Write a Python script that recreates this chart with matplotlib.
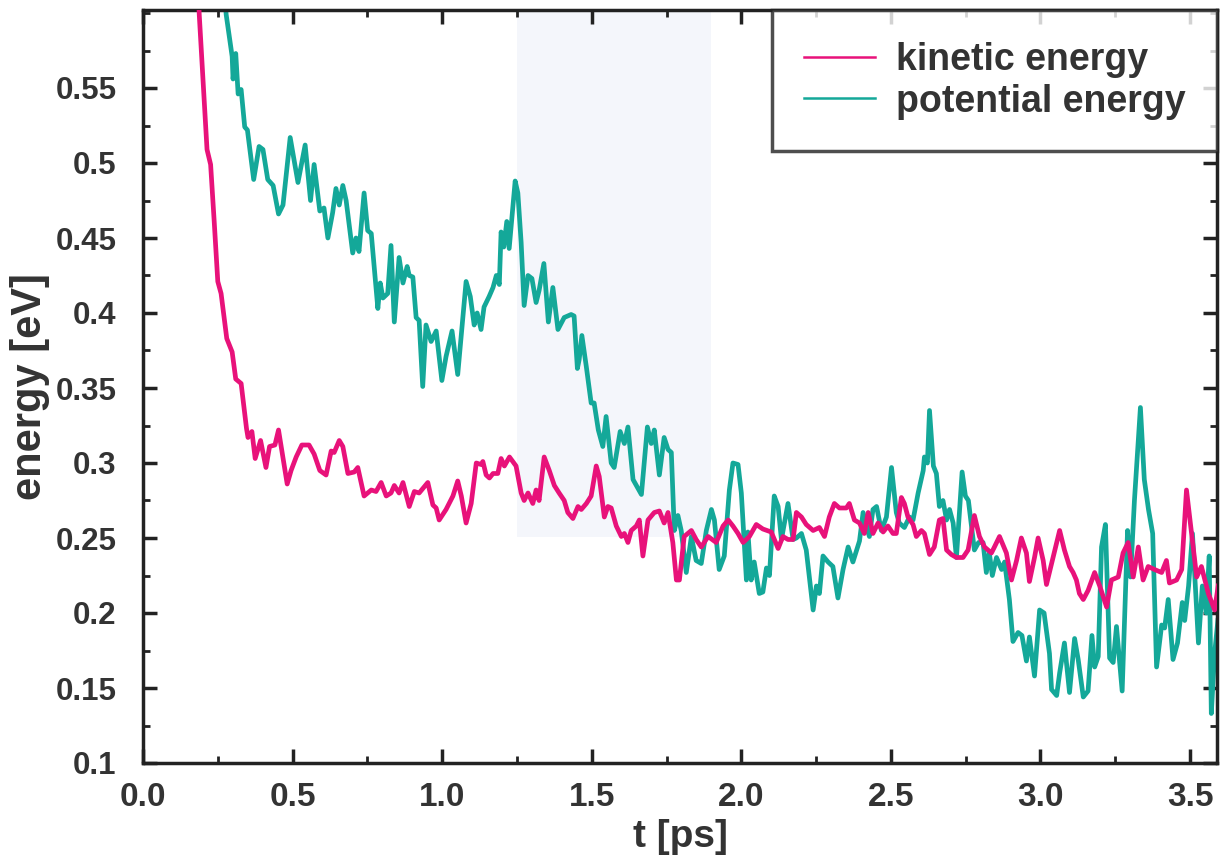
import numpy as np
import matplotlib
matplotlib.use("Agg")
import matplotlib.pyplot as plt
from matplotlib.ticker import MultipleLocator, FuncFormatter

plt.rcParams['font.family'] = ['Liberation Sans', 'DejaVu Sans']
plt.rcParams['font.weight'] = 'bold'

# kinetic energy (t in ps, E in eV)
t_kin = [0.178, 0.188, 0.214, 0.226, 0.238, 0.250, 0.261, 0.280, 0.298, 0.310, 0.328,
         0.346, 0.351, 0.364, 0.375, 0.393, 0.411, 0.423, 0.441, 0.453, 0.465, 0.482,
         0.495, 0.512, 0.531, 0.555, 0.572, 0.591, 0.612, 0.629, 0.639, 0.656, 0.668,
         0.685, 0.706, 0.718, 0.739, 0.763, 0.779, 0.796, 0.813, 0.829, 0.840, 0.856,
         0.869, 0.890, 0.907, 0.923, 0.952, 0.969, 0.980, 0.990, 1.013, 1.036, 1.052,
         1.064, 1.080, 1.097, 1.114, 1.130, 1.136, 1.147, 1.158, 1.170, 1.186, 1.197,
         1.208, 1.225, 1.247, 1.264, 1.274, 1.287, 1.303, 1.314, 1.324, 1.341, 1.358,
         1.375, 1.391, 1.408, 1.420, 1.437, 1.454, 1.465, 1.482, 1.498, 1.515, 1.525,
         1.542, 1.554, 1.565, 1.582, 1.599, 1.609, 1.621, 1.632, 1.649, 1.659, 1.671,
         1.688, 1.709, 1.726, 1.742, 1.755, 1.771, 1.783, 1.793, 1.809, 1.833, 1.849,
         1.866, 1.889, 1.916, 1.939, 1.956, 1.972, 1.989, 2.006, 2.027, 2.050, 2.072,
         2.100, 2.123, 2.139, 2.156, 2.173, 2.184, 2.201, 2.217, 2.240, 2.261, 2.278,
         2.294, 2.311, 2.328, 2.351, 2.361, 2.378, 2.395, 2.411, 2.424, 2.440, 2.457,
         2.474, 2.490, 2.507, 2.518, 2.535, 2.545, 2.557, 2.574, 2.585, 2.602, 2.612,
         2.629, 2.645, 2.662, 2.674, 2.686, 2.702, 2.719, 2.741, 2.758, 2.779, 2.796,
         2.813, 2.836, 2.846, 2.863, 2.886, 2.903, 2.920, 2.936, 2.953, 2.963, 2.980,
         2.992, 3.009, 3.020, 3.037, 3.064, 3.080, 3.097, 3.109, 3.120, 3.130, 3.143,
         3.159, 3.181, 3.198, 3.221, 3.237, 3.260, 3.276, 3.293, 3.310, 3.327, 3.343,
         3.360, 3.381, 3.405, 3.421, 3.431, 3.455, 3.472, 3.488, 3.505, 3.522, 3.538,
         3.561, 3.582, 3.594]
e_kin = [0.650, 0.599, 0.509, 0.499, 0.461, 0.421, 0.413, 0.383, 0.374, 0.356, 0.353,
         0.323, 0.317, 0.321, 0.303, 0.315, 0.297, 0.311, 0.312, 0.322, 0.307, 0.286,
         0.295, 0.304, 0.312, 0.312, 0.306, 0.295, 0.292, 0.308, 0.307, 0.315, 0.311,
         0.293, 0.294, 0.297, 0.278, 0.282, 0.281, 0.287, 0.278, 0.280, 0.285, 0.280,
         0.287, 0.271, 0.281, 0.280, 0.287, 0.272, 0.270, 0.262, 0.269, 0.278, 0.288,
         0.278, 0.260, 0.273, 0.300, 0.299, 0.301, 0.292, 0.290, 0.293, 0.293, 0.303,
         0.298, 0.304, 0.298, 0.280, 0.275, 0.280, 0.273, 0.282, 0.275, 0.304, 0.295,
         0.285, 0.280, 0.275, 0.267, 0.263, 0.271, 0.269, 0.273, 0.278, 0.298, 0.291,
         0.264, 0.271, 0.270, 0.258, 0.251, 0.253, 0.247, 0.255, 0.258, 0.262, 0.238,
         0.262, 0.267, 0.268, 0.260, 0.267, 0.247, 0.222, 0.222, 0.251, 0.255, 0.249,
         0.244, 0.251, 0.247, 0.258, 0.262, 0.258, 0.253, 0.247, 0.251, 0.259, 0.256,
         0.254, 0.243, 0.251, 0.249, 0.249, 0.267, 0.264, 0.259, 0.255, 0.257, 0.251,
         0.264, 0.273, 0.270, 0.270, 0.273, 0.262, 0.260, 0.253, 0.267, 0.253, 0.260,
         0.254, 0.258, 0.253, 0.253, 0.277, 0.273, 0.264, 0.259, 0.251, 0.255, 0.253,
         0.239, 0.244, 0.262, 0.263, 0.242, 0.239, 0.237, 0.237, 0.242, 0.265, 0.251,
         0.244, 0.240, 0.244, 0.251, 0.240, 0.222, 0.235, 0.250, 0.240, 0.221, 0.237,
         0.250, 0.235, 0.219, 0.233, 0.255, 0.242, 0.231, 0.227, 0.222, 0.213, 0.209,
         0.215, 0.227, 0.218, 0.204, 0.222, 0.224, 0.240, 0.247, 0.224, 0.244, 0.222,
         0.231, 0.229, 0.227, 0.235, 0.220, 0.222, 0.229, 0.282, 0.253, 0.224, 0.231,
         0.213, 0.202, 0.218]

# potential energy
t_pot = [0.262, 0.278, 0.298, 0.301, 0.310, 0.318, 0.328, 0.340, 0.349, 0.370, 0.388,
         0.401, 0.417, 0.435, 0.453, 0.468, 0.492, 0.518, 0.542, 0.560, 0.572, 0.591,
         0.605, 0.618, 0.634, 0.645, 0.656, 0.668, 0.679, 0.701, 0.712, 0.722, 0.739,
         0.751, 0.763, 0.785, 0.793, 0.802, 0.818, 0.829, 0.840, 0.856, 0.869, 0.883,
         0.890, 0.902, 0.913, 0.923, 0.935, 0.946, 0.963, 0.980, 0.999, 1.013, 1.033,
         1.052, 1.080, 1.094, 1.107, 1.117, 1.130, 1.140, 1.157, 1.170, 1.181, 1.191,
         1.197, 1.206, 1.216, 1.224, 1.244, 1.253, 1.264, 1.274, 1.287, 1.300, 1.314,
         1.324, 1.340, 1.355, 1.370, 1.387, 1.408, 1.431, 1.441, 1.452, 1.458, 1.467,
         1.482, 1.498, 1.508, 1.522, 1.537, 1.548, 1.565, 1.575, 1.595, 1.609, 1.621,
         1.638, 1.666, 1.686, 1.699, 1.709, 1.726, 1.742, 1.755, 1.766, 1.776, 1.788,
         1.799, 1.816, 1.833, 1.849, 1.866, 1.883, 1.900, 1.910, 1.926, 1.943, 1.960,
         1.972, 1.989, 2.000, 2.017, 2.022, 2.033, 2.043, 2.060, 2.072, 2.084, 2.094,
         2.110, 2.123, 2.134, 2.156, 2.173, 2.184, 2.201, 2.217, 2.240, 2.251, 2.261,
         2.273, 2.290, 2.306, 2.323, 2.340, 2.357, 2.373, 2.395, 2.407, 2.418, 2.428,
         2.440, 2.452, 2.468, 2.485, 2.502, 2.518, 2.528, 2.545, 2.562, 2.574, 2.591,
         2.608, 2.612, 2.622, 2.629, 2.642, 2.652, 2.662, 2.674, 2.686, 2.696, 2.708,
         2.719, 2.738, 2.749, 2.759, 2.779, 2.793, 2.808, 2.819, 2.829, 2.839, 2.853,
         2.870, 2.880, 2.896, 2.908, 2.925, 2.938, 2.953, 2.963, 2.980, 2.997, 3.012,
         3.030, 3.037, 3.054, 3.064, 3.080, 3.097, 3.114, 3.126, 3.143, 3.159, 3.172,
         3.181, 3.193, 3.204, 3.217, 3.231, 3.243, 3.254, 3.273, 3.291, 3.301, 3.314,
         3.334, 3.347, 3.361, 3.375, 3.388, 3.405, 3.415, 3.427, 3.443, 3.458, 3.474,
         3.482, 3.495, 3.508, 3.528, 3.541, 3.554, 3.564, 3.571, 3.582, 3.593]
e_pot = [0.640, 0.599, 0.571, 0.556, 0.573, 0.546, 0.549, 0.524, 0.522, 0.489, 0.511,
         0.509, 0.489, 0.485, 0.466, 0.472, 0.517, 0.487, 0.512, 0.475, 0.499, 0.468,
         0.470, 0.450, 0.467, 0.483, 0.472, 0.485, 0.475, 0.440, 0.450, 0.441, 0.480,
         0.455, 0.453, 0.403, 0.420, 0.410, 0.413, 0.445, 0.394, 0.437, 0.420, 0.431,
         0.425, 0.424, 0.397, 0.395, 0.351, 0.392, 0.381, 0.388, 0.355, 0.371, 0.388,
         0.359, 0.421, 0.411, 0.392, 0.400, 0.389, 0.404, 0.411, 0.417, 0.425, 0.419,
         0.454, 0.444, 0.461, 0.443, 0.488, 0.480, 0.447, 0.405, 0.425, 0.423, 0.407,
         0.415, 0.433, 0.394, 0.417, 0.389, 0.397, 0.399, 0.398, 0.363, 0.369, 0.385,
         0.364, 0.340, 0.340, 0.322, 0.311, 0.331, 0.300, 0.297, 0.321, 0.313, 0.324,
         0.289, 0.279, 0.324, 0.313, 0.322, 0.292, 0.317, 0.309, 0.307, 0.255, 0.265,
         0.255, 0.227, 0.251, 0.235, 0.233, 0.255, 0.269, 0.262, 0.229, 0.238, 0.282,
         0.300, 0.299, 0.280, 0.222, 0.254, 0.222, 0.234, 0.213, 0.214, 0.230, 0.225,
         0.278, 0.271, 0.249, 0.273, 0.249, 0.250, 0.253, 0.242, 0.202, 0.218, 0.213,
         0.238, 0.234, 0.231, 0.210, 0.229, 0.244, 0.234, 0.248, 0.267, 0.258, 0.251,
         0.269, 0.271, 0.255, 0.264, 0.297, 0.267, 0.260, 0.257, 0.264, 0.262, 0.280,
         0.295, 0.304, 0.300, 0.335, 0.298, 0.293, 0.271, 0.275, 0.262, 0.269, 0.260,
         0.237, 0.294, 0.278, 0.275, 0.242, 0.247, 0.247, 0.227, 0.240, 0.225, 0.237,
         0.229, 0.234, 0.209, 0.181, 0.187, 0.185, 0.168, 0.184, 0.158, 0.202, 0.200,
         0.173, 0.149, 0.145, 0.160, 0.180, 0.147, 0.183, 0.169, 0.144, 0.148, 0.185,
         0.164, 0.171, 0.244, 0.259, 0.170, 0.167, 0.191, 0.148, 0.255, 0.224, 0.275,
         0.337, 0.289, 0.269, 0.253, 0.164, 0.192, 0.190, 0.209, 0.169, 0.180, 0.207,
         0.195, 0.218, 0.253, 0.180, 0.218, 0.200, 0.238, 0.133, 0.173, 0.195]

kin_color = '#e8127a'
pot_color = '#14a899'

fig = plt.figure(figsize=(12.24, 8.6), dpi=100)
ax = fig.add_axes([143 / 1224, 97 / 860, 1074 / 1224, 753 / 860])

# faint band left by the scan
ax.axvspan(1.25, 1.9, ymin=0.3, ymax=1, color='#f4f6fb', lw=0, zorder=0)

ax.plot(t_kin, e_kin, color=kin_color, lw=3.4, label='kinetic energy', zorder=3)
ax.plot(t_pot, e_pot, color=pot_color, lw=3.4, label='potential energy', zorder=2)

ax.set_xlim(0, 3.59)
ax.set_ylim(0.1, 0.602)
ax.set_yticks([0.1, 0.15, 0.2, 0.25, 0.3, 0.35, 0.4, 0.45, 0.5, 0.55])
ax.xaxis.set_major_locator(MultipleLocator(0.5))
ax.xaxis.set_minor_locator(MultipleLocator(0.25))
ax.yaxis.set_minor_locator(MultipleLocator(0.025))
ax.yaxis.set_major_formatter(FuncFormatter(lambda v, p: '%g' % round(v, 3)))
ax.xaxis.set_major_formatter(FuncFormatter(lambda v, p: '%.1f' % v))

ax.tick_params(which='both', direction='in', top=True, right=True, color='#222222')
ax.tick_params(which='major', length=10, width=2.5, labelsize=24, labelcolor='#333333')
ax.tick_params(which='minor', length=5, width=2)
ax.tick_params(axis='x', which='major', pad=14)
ax.tick_params(axis='y', which='major', pad=19, labelsize=22.5)
for s in ax.spines.values():
    s.set_linewidth(2.5)
    s.set_color('#222222')

ax.set_xlabel('t [ps]', fontsize=28, fontweight='bold', color='#333333', labelpad=4)
ax.set_ylabel('energy [eV]', fontsize=30, fontweight='bold', color='#333333', labelpad=4)

leg = ax.legend(loc='upper right', fontsize=27, frameon=True, fancybox=False,
                borderaxespad=0, handlelength=1.9, handletextpad=0.55,
                borderpad=0.85, labelspacing=0.15)
leg.get_frame().set_edgecolor('#222222')
leg.get_frame().set_linewidth(2.5)
for txt in leg.get_texts():
    txt.set_color('#333333')
for ln in leg.get_lines():
    ln.set_linewidth(1.8)

fig.savefig('out.png', dpi=100)
